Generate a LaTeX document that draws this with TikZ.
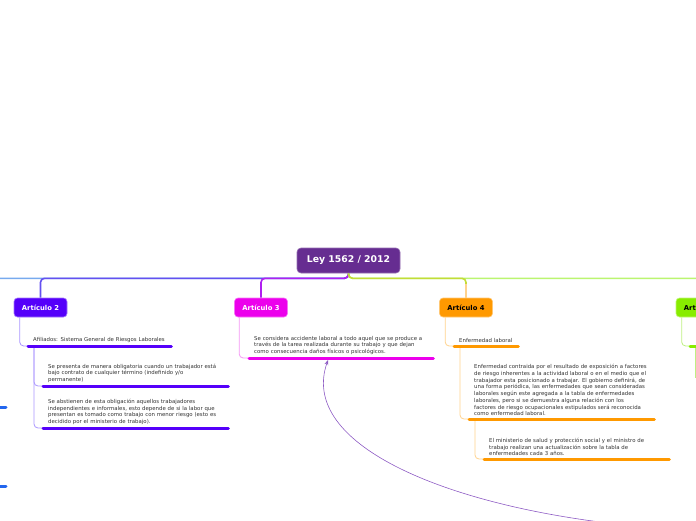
\documentclass[tikz,border=0pt]{standalone}
\usepackage{fontspec}
\setmainfont{DejaVu Sans}
\usetikzlibrary{arrows.meta,positioning,calc}
\definecolor{leyRoot}{RGB}{102,45,145}
\definecolor{leyViolet}{RGB}{85,0,250}
\definecolor{leyMagenta}{RGB}{236,0,236}
\definecolor{leyOrange}{RGB}{255,153,0}
\definecolor{leyLime}{RGB}{136,236,0}
\definecolor{leyBlue}{RGB}{34,102,238}
\definecolor{leySky}{RGB}{119,170,238}
\definecolor{leyText}{RGB}{51,51,51}
\definecolor{leyArrow}{RGB}{142,92,196}
\definecolor{tr2}{RGB}{100,80,240}
\definecolor{tr3}{RGB}{176,32,240}
\definecolor{tr4}{RGB}{195,220,55}
\definecolor{tr5}{RGB}{187,245,112}
\definecolor{cn2}{RGB}{170,150,255}
\definecolor{cn3}{RGB}{245,150,245}
\definecolor{cn4}{RGB}{255,210,140}
\definecolor{cn5}{RGB}{190,240,130}

\begin{document}
\begin{tikzpicture}[
  x=1pt, y=-1pt,
  rootnode/.style={rounded corners=4pt, fill=leyRoot, draw=leyRoot!70!white,
                   line width=0.6pt, text=white,
                   font=\fontsize{9.3}{11}\selectfont\bfseries,
                   minimum width=103pt, minimum height=25pt, inner sep=0pt},
  artnode/.style={rounded corners=3.5pt, fill=#1, draw=#1!55!white,
                  line width=0.6pt, font=\fontsize{6.8}{8}\selectfont\bfseries,
                  minimum width=53pt, minimum height=19pt, inner sep=0pt},
  leaf/.style={anchor=south west, text width=#1, align=left,
               inner xsep=5pt, inner ysep=3pt, text=leyText,
               font=\fontsize{5.4}{6.7}\selectfont},
  uline/.style={line width=3pt, #1, line cap=round},
  trunk/.style={line width=1.6pt, #1, rounded corners=4pt},
  conn/.style={line width=0.8pt, #1, rounded corners=4pt},
  rel/.style={-{Stealth[length=5pt,width=4pt]}, leyArrow, line width=0.6pt},
]

\useasboundingbox (0,0) rectangle (696,520);
\clip (0,0) rectangle (696,520);

\def\rowY{307.5}  % vertical centre of the article nodes

% ─── central topic ─────────────────────────────────────────────
\node[rootnode] (root) at (348.5,260.5) {Ley 1562 / 2012};

% ─── article nodes ─────────────────────────────────────────────
\foreach \n/\x/\col/\tc/\num in {art2/40.5/leyViolet/white/2,
                                 art3/261/leyMagenta/white/3,
                                 art4/466/leyOrange/black/4,
                                 art5/702.5/leyLime/black/5}{
  \node[artnode=\col, text=\tc] (\n) at (\x,\rowY) {Artículo \num};
}
\coordinate (offl) at (-40,\rowY);

% ─── trunk lines ───────────────────────────────────────────────
\draw[trunk=leySky] (root.south) -- ++(0,5) -| (offl);
\foreach \tgt/\col in {art2/tr2, art3/tr3, art5/tr5, art4/tr4}{
  \draw[trunk=\col] (root.south) -- ++(0,5) -| (\tgt.north);
}
\draw[trunk=cn4] (art4.north) -- ++(0,-14);

% ─── Artículo 2 ────────────────────────────────────────────────
\node[leaf=133pt] (afil) at (28,346)
    {Afiliados: Sistema General de Riesgos Laborales};
\node[leaf=175pt] (pres) at (43,386)
    {Se presenta de manera obligatoria cuando un trabajador está\\
     bajo contrato de cualquier término (indefinido y/o\\
     permanente)};
\node[leaf=175pt] (abst) at (43,428)
    {Se abstienen de esta obligación aquellos trabajadores\\
     independientes e informales, esto depende de si la labor que\\
     presentan es tomado como trabajo con menor riesgo (esto es\\
     decidido por el ministerio de trabajo).};

\draw[conn=cn2] ([xshift=6pt]art2.south west) |- (afil.south west);
\draw[conn=cn2] ([xshift=6pt]afil.south west) |- (pres.south west);
\draw[conn=cn2] ([xshift=6pt]afil.south west) |- (abst.south west);
\foreach \n in {afil, pres, abst}{
  \draw[uline=leyViolet] (\n.south west) -- (\n.south east);
}

% off-page neighbours on the left
\coordinate (lb1) at (6,407);
\coordinate (lb2) at (6,486);
\foreach \c in {lb1, lb2}{
  \draw[uline=leyBlue] (\c) -- ++(-40,0);
}

% ─── Artículo 3 ────────────────────────────────────────────────
\node[leaf=174pt] (acc) at (249,358)
    {Se considera accidente laboral a todo aquel que se produce a\\
     través de la tarea realizada durante su trabajo y que dejan\\
     como consecuencia daños físicos o psicológicos.};
\draw[conn=cn3] ([xshift=5pt]art3.south west) |- (acc.south west);
\draw[uline=leyMagenta] (acc.south west) -- (acc.south east);

% ─── Artículo 4 ────────────────────────────────────────────────
\node[leaf=54pt] (enfl) at (454,346) {Enfermedad laboral};
\node[leaf=175pt] (enfc) at (469,419)
    {Enfermedad contraida por el resultado de exposición a factores\\
     de riesgo inherentes a la actividad laboral o en el medio que el\\
     trabajador esta posicionado a trabajar. El gobierno definirá, de\\
     una forma periódica, las enfermedades que sean consideradas\\
     laborales según este agregada a la tabla de enfermedades\\
     laborales, pero si se demuestra alguna relación con los\\
     factores de riesgo ocupacionales estipulados será reconocida\\
     como enfermedad laboral.};
\node[leaf=175pt] (mins) at (484,459)
    {El ministerio de salud y protección social y el ministro de\\
     trabajo realizan una actualización sobre la tabla de\\
     enfermedades cada 3 años.};

\draw[conn=cn4] ([xshift=6pt]art4.south west) |- (enfl.south west);
\draw[conn=cn4] ([xshift=6pt]enfl.south west) |- (enfc.south west);
\draw[conn=cn4] ([xshift=6pt]enfc.south west) |- (mins.south west);
\foreach \n in {enfl, enfc, mins}{
  \draw[uline=leyOrange] (\n.south west) -- (\n.south east);
}

% ─── Artículo 5 (cut at the page edge) ─────────────────────────
\node[leaf=150pt] (a5c1) at (690,346) {};
\coordinate (a5end) at (695,378);
\draw[conn=cn5] ([xshift=6pt]art5.south west) |- (a5c1.south west);
\draw[conn=cn5] ([xshift=5pt]a5c1.south west) -- (a5end);
\draw[uline=leyLime] (a5c1.south west) -- (a5c1.south east);

% ─── relationship arrow ────────────────────────────────────────
\coordinate (relsrc) at (600,522);
\coordinate (reltip) at ([xshift=79pt,yshift=-2pt]acc.south west);
\draw[rel] (relsrc) .. controls (430,500) and (300,440) .. (reltip);

\end{tikzpicture}
\end{document}
